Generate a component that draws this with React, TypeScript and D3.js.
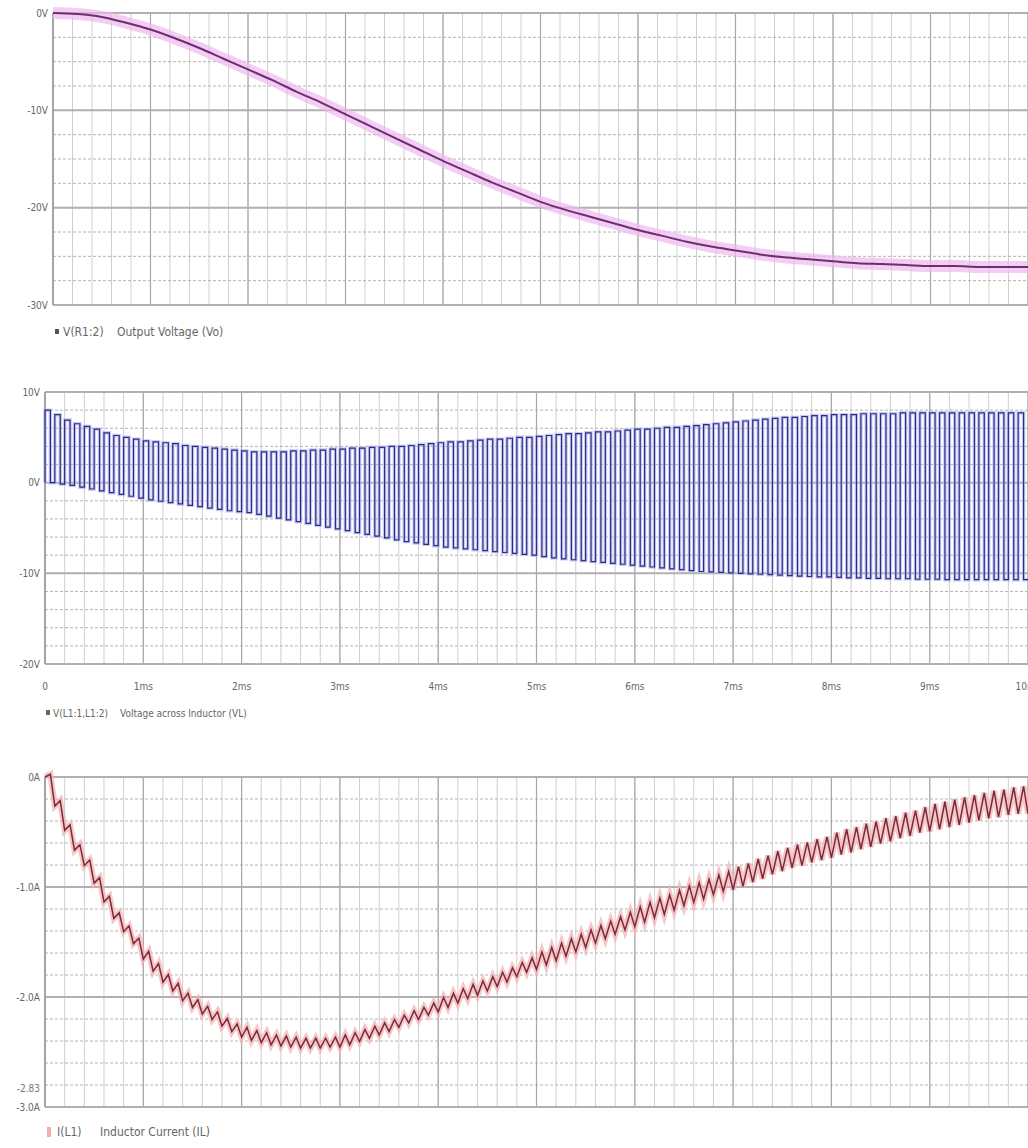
import React from 'react';
import * as d3 from 'd3';

// ---------- shared time axis (ms) ----------
const TIME_TICKS = [0, 1, 2, 3, 4, 5, 6, 7, 8, 9, 10];
const TIME_LABELS = ['0', '1ms', '2ms', '3ms', '4ms', '5ms', '6ms', '7ms', '8ms', '9ms', '10ms'];

// ---------- panel 1: output voltage ----------
const VO_TIME = [0, 0.25, 0.5, 0.75, 1, 1.25, 1.5, 1.75, 2, 2.25, 2.5, 2.75, 3, 3.25, 3.5, 3.75, 4, 4.25, 4.5, 4.75, 5,
  5.25, 5.5, 5.75, 6, 6.25, 6.5, 6.75, 7, 7.25, 7.5, 7.75, 8, 8.25, 8.5, 8.75, 9, 9.25, 9.5, 9.75, 10];
const VO_VALUES = [0, -0.1, -0.4, -1.0, -1.7, -2.6, -3.6, -4.7, -5.8, -6.9, -8.1, -9.2, -10.4, -11.6, -12.8, -14.0,
  -15.2, -16.3, -17.4, -18.4, -19.4, -20.2, -20.9, -21.6, -22.3, -22.9, -23.5, -24.0, -24.4, -24.8, -25.1, -25.3,
  -25.5, -25.7, -25.8, -25.9, -26.0, -26.0, -26.1, -26.1, -26.1];
const VO_TICKS = [0, -10, -20, -30];
const VO_TICK_LABELS = ['0V', '-10V', '-20V', '-30V'];

// ---------- panel 2: inductor voltage (per switching cycle) ----------
const VL_PERIOD_MS = 0.1;
const VL_DUTY = 0.55;
const VL_HIGH = [
  8.0, 7.5, 6.9, 6.5, 6.2, 5.9, 5.5, 5.2, 5.0, 4.8,
  4.6, 4.5, 4.4, 4.3, 4.1, 4.0, 3.9, 3.8, 3.7, 3.6,
  3.5, 3.4, 3.4, 3.4, 3.4, 3.5, 3.5, 3.6, 3.6, 3.7,
  3.7, 3.8, 3.8, 3.9, 3.9, 4.0, 4.0, 4.1, 4.2, 4.3,
  4.4, 4.5, 4.5, 4.6, 4.7, 4.8, 4.8, 4.9, 5.0, 5.0,
  5.1, 5.2, 5.3, 5.4, 5.4, 5.5, 5.6, 5.6, 5.7, 5.8,
  5.9, 5.9, 6.0, 6.1, 6.1, 6.2, 6.3, 6.4, 6.5, 6.6,
  6.7, 6.8, 6.9, 7.0, 7.1, 7.2, 7.2, 7.3, 7.4, 7.4,
  7.5, 7.5, 7.5, 7.6, 7.6, 7.6, 7.6, 7.7, 7.7, 7.7,
  7.7, 7.7, 7.7, 7.7, 7.7, 7.7, 7.7, 7.7, 7.7, 7.7];
const VL_LOW = [
  0.0, -0.15, -0.3, -0.5, -0.7, -0.9, -1.1, -1.3, -1.5, -1.7,
  -1.9, -2.05, -2.2, -2.35, -2.5, -2.65, -2.8, -2.95, -3.1, -3.2,
  -3.3, -3.5, -3.7, -3.9, -4.1, -4.3, -4.5, -4.7, -4.9, -5.1,
  -5.3, -5.5, -5.7, -5.9, -6.1, -6.3, -6.5, -6.65, -6.8, -6.95,
  -7.1, -7.2, -7.3, -7.4, -7.5, -7.6, -7.7, -7.8, -7.9, -8.0,
  -8.15, -8.3, -8.4, -8.5, -8.6, -8.7, -8.8, -8.9, -9.0, -9.1,
  -9.2, -9.3, -9.4, -9.5, -9.6, -9.7, -9.8, -9.85, -9.9, -9.95,
  -10.0, -10.05, -10.1, -10.15, -10.2, -10.25, -10.3, -10.35, -10.4, -10.4,
  -10.45, -10.5, -10.5, -10.55, -10.55, -10.6, -10.6, -10.6, -10.65, -10.65,
  -10.65, -10.7, -10.7, -10.7, -10.7, -10.7, -10.7, -10.7, -10.7, -10.7];
const VL_TICKS = [10, 0, -10, -20];
const VL_TICK_LABELS = ['10V', '0V', '-10V', '-20V'];

// ---------- panel 3: inductor current (per switching cycle) ----------
const IL_CENTER = [
  0.00, -0.24, -0.46, -0.64, -0.78, -0.94, -1.11, -1.26, -1.38, -1.49,
  -1.62, -1.73, -1.83, -1.91, -2.00, -2.06, -2.12, -2.17, -2.23, -2.28,
  -2.32, -2.35, -2.37, -2.39, -2.40, -2.41, -2.42, -2.42, -2.42, -2.41,
  -2.40, -2.38, -2.35, -2.32, -2.29, -2.26, -2.22, -2.18, -2.15, -2.11,
  -2.07, -2.03, -1.99, -1.95, -1.92, -1.88, -1.84, -1.80, -1.75, -1.71,
  -1.67, -1.63, -1.59, -1.55, -1.51, -1.47, -1.43, -1.39, -1.35, -1.31,
  -1.27, -1.23, -1.19, -1.16, -1.12, -1.08, -1.05, -1.02, -0.98, -0.95,
  -0.92, -0.89, -0.85, -0.82, -0.78, -0.75, -0.72, -0.70, -0.67, -0.65,
  -0.62, -0.59, -0.57, -0.54, -0.52, -0.49, -0.47, -0.44, -0.42, -0.39,
  -0.37, -0.35, -0.33, -0.31, -0.29, -0.27, -0.25, -0.24, -0.22, -0.21];
const IL_RIPPLE_PER_MS = [0.05, 0.07, 0.09, 0.11, 0.13, 0.16, 0.18, 0.21, 0.23, 0.25];
const IL_TICKS = [0, -1, -2, -3];
const IL_TICK_LABELS = ['0A', '-1.0A', '-2.0A', '-3.0A'];
const IL_EXTRA_TICK = -2.83;
const IL_EXTRA_LABEL = '-2.83';

const FONT = "'DejaVu Sans Condensed', 'DejaVu Sans', sans-serif";
const W = 1028;

type PanelProps = {
  left: number; top: number; bottom: number;
  yDomain: [number, number]; yMinorStep: number;
  ticks: number[]; tickLabels: string[];
  children: (x: d3.ScaleLinear<number, number>, y: d3.ScaleLinear<number, number>) => React.ReactNode;
  showXLabels?: boolean;
  extraTick?: number; extraLabel?: string;
};

function Panel(p: PanelProps) {
  const x = d3.scaleLinear().domain([0, 10]).range([p.left, W]);
  const y = d3.scaleLinear().domain(p.yDomain).range([p.bottom, p.top]);
  const vMinor = d3.range(0, 10.001, 0.2);
  const hMinor = d3.range(p.yDomain[0], p.yDomain[1] + 1e-6, p.yMinorStep);
  return (
    <g>
      {vMinor.map((t, i) => (
        <line key={'vm' + i} x1={x(t)} x2={x(t)} y1={p.top} y2={p.bottom} stroke="#cfcfcf" strokeWidth={1} />
      ))}
      {hMinor.map((v, i) => (
        <line key={'hm' + i} x1={p.left} x2={W} y1={y(v)} y2={y(v)} stroke="#b4b4b4" strokeWidth={1} strokeDasharray="3,2" />
      ))}
      {TIME_TICKS.map((t, i) => (
        <line key={'vM' + i} x1={x(t)} x2={x(t)} y1={p.top} y2={p.bottom} stroke="#a8a8a8" strokeWidth={1.2} />
      ))}
      {p.ticks.map((v, i) => (
        <line key={'hM' + i} x1={p.left} x2={W} y1={y(v)} y2={y(v)} stroke="#b0b0b0" strokeWidth={2} />
      ))}
      <line x1={p.left} x2={p.left} y1={p.top} y2={p.bottom} stroke="#9a9a9a" strokeWidth={1.5} />
      {p.children(x, y)}
      {p.ticks.map((v, i) => (
        <text key={'yl' + i} x={p.left - 5} y={y(v)} dy="0.35em" textAnchor="end" fontSize={10}
          fontFamily={FONT} fill="#666">{p.tickLabels[i]}</text>
      ))}
      {p.extraTick !== undefined && (
        <text x={p.left - 5} y={y(p.extraTick)} dy="0.35em" textAnchor="end" fontSize={10}
          fontFamily={FONT} fill="#777">{p.extraLabel}</text>
      )}
      {p.showXLabels && TIME_TICKS.map((t, i) => (
        <text key={'xl' + i} x={x(t)} y={p.bottom + 26} textAnchor="middle" fontSize={10}
          fontFamily={FONT} fill="#666">{TIME_LABELS[i]}</text>
      ))}
    </g>
  );
}

function Legend({ mx, nx, dx, y, marker, name, desc, size }:
  { mx: number; nx: number; dx: number; y: number; marker: string; name: string; desc: string; size: number }) {
  return (
    <g fontFamily={FONT} fontSize={size} fill="#666">
      <rect x={mx} y={y - 3} width={4} height={5} fill={marker} />
      <text x={nx} y={y} dy="0.35em">{name}</text>
      <text x={dx} y={y} dy="0.35em">{desc}</text>
    </g>
  );
}

export default function App() {
  return (
    <svg width={1028} height={1148} style={{ position: 'absolute', left: 0, top: 0, background: '#fff' }}>
      {/* Panel 1 */}
      <Panel left={53} top={13} bottom={305} yDomain={[-30, 0]} yMinorStep={2.5}
        ticks={VO_TICKS} tickLabels={VO_TICK_LABELS}>
        {(x, y) => {
          const line = d3.line<number>().x((_, i) => x(VO_TIME[i])).y(d => y(d)).curve(d3.curveMonotoneX);
          const dpath = line(VO_VALUES) || '';
          return (
            <g>
              <path d={dpath} fill="none" stroke="#f0b8f0" strokeOpacity={0.7} strokeWidth={12} />
              <path d={dpath} fill="none" stroke="#6b2f6e" strokeWidth={2} />
            </g>
          );
        }}
      </Panel>
      <Legend mx={55} nx={63} dx={117} y={332} size={12} marker="#555" name="V(R1:2)" desc="Output Voltage (Vo)" />

      {/* Panel 2 */}
      <Panel left={45} top={392} bottom={664} yDomain={[-20, 10]} yMinorStep={2}
        ticks={VL_TICKS} tickLabels={VL_TICK_LABELS} showXLabels>
        {(x, y) => {
          const pts: [number, number][] = [];
          VL_HIGH.forEach((h, k) => {
            const t0 = k * VL_PERIOD_MS;
            const t1 = t0 + VL_DUTY * VL_PERIOD_MS;
            const prevLow = k === 0 ? VL_LOW[0] : VL_LOW[k - 1];
            pts.push([x(t0), y(prevLow)]);
            pts.push([x(t0), y(h)]);
            pts.push([x(t1), y(h)]);
            pts.push([x(t1), y(VL_LOW[k])]);
          });
          pts.push([x(10), y(VL_LOW[VL_LOW.length - 1])]);
          const dpath = d3.line()(pts) || '';
          return (
            <g>
              <path d={dpath} fill="none" stroke="#b4b4f4" strokeOpacity={0.7} strokeWidth={3.5} />
              <path d={dpath} fill="none" stroke="#2c2c80" strokeWidth={1.2} />
            </g>
          );
        }}
      </Panel>
      <Legend mx={46} nx={53} dx={120} y={713} size={10} marker="#666" name="V(L1:1,L1:2)" desc="Voltage across Inductor (VL)" />

      {/* Panel 3 */}
      <Panel left={45} top={777} bottom={1107} yDomain={[-3, 0]} yMinorStep={0.2}
        ticks={IL_TICKS} tickLabels={IL_TICK_LABELS} extraTick={IL_EXTRA_TICK} extraLabel={IL_EXTRA_LABEL}>
        {(x, y) => {
          const pts: [number, number][] = [];
          IL_CENTER.forEach((c, k) => {
            const r = IL_RIPPLE_PER_MS[Math.floor(k / 10)];
            const t0 = k * VL_PERIOD_MS;
            const t1 = t0 + VL_DUTY * VL_PERIOD_MS;
            pts.push([x(t0), y(k === 0 ? c : c - r / 2)]);
            pts.push([x(t1), y(c + r / 2)]);
          });
          const last = IL_CENTER[IL_CENTER.length - 1];
          pts.push([x(10), y(last - IL_RIPPLE_PER_MS[9] / 2)]);
          const dpath = d3.line()(pts) || '';
          return (
            <g>
              <path d={dpath} fill="none" stroke="#f4b4b4" strokeOpacity={0.75} strokeWidth={6} />
              <path d={dpath} fill="none" stroke="#7a2a3c" strokeWidth={1.5} />
            </g>
          );
        }}
      </Panel>
      <g>
        <rect x={47} y={1127} width={4} height={10} fill="#f0b0b0" />
        <text x={57} y={1132} dy="0.35em" fontFamily={FONT} fontSize={12} fill="#666">I(L1)</text>
        <text x={100} y={1132} dy="0.35em" fontFamily={FONT} fontSize={12} fill="#666">Inductor Current (IL)</text>
      </g>
    </svg>
  );
}
